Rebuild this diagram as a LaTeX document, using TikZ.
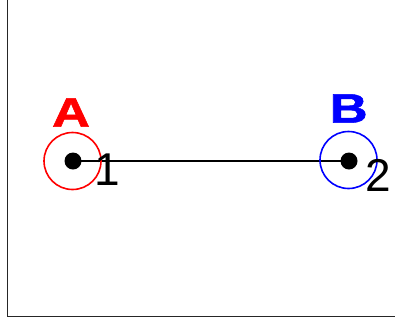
\documentclass[tikz,border=0pt]{standalone}
\usepackage{fontspec}
\usetikzlibrary{backgrounds}
\setmainfont{Liberation Sans}
\newfontfamily\namefont[FakeBold=1.2]{Liberation Sans Bold}
\newcommand{\widename}[1]{\scalebox{1.28}[1]{#1}}
\begin{document}
\begin{tikzpicture}[x=1pt,y=-1pt,
  dot/.style={circle,fill=black,inner sep=0pt,minimum size=17pt},
  ring/.style={circle,draw=#1,line width=1.6pt,inner sep=0pt,minimum size=57pt},
  pointname/.style={text=#1,inner sep=0pt,font=\fontsize{41}{41}\namefont},
  index/.style={inner sep=0pt,font=\fontsize{46}{46}\selectfont},
  link/.style={line width=1.5pt}]
  \useasboundingbox (0,0) rectangle (395,322);
  % outer frame, top and right edges lie beyond the page
  \draw[line width=1pt,black!85] (7.5,-10) rectangle (405,316);
  % end points with their rings
  \node[ring=red] (ringA) at (72.5,161) {};
  \node[ring=blue] (ringB) at (348.5,160) {};
  \node[dot] (dotA) at (73,161) {};
  \node[dot] (dotB) at (349,161) {};
  % segment between the two points, kept under the dots
  \begin{scope}[on background layer]
    \draw[link] (dotA.center) -- (dotB.center);
  \end{scope}
  % names and indices
  \node[pointname=red] (nameA) at (71,112.5) {\widename{A}};
  \node[pointname=blue] (nameB) at (348.7,108.5) {\widename{B}};
  \node[index] (idxA) at (107,170) {1};
  \node[index] (idxB) at (378,175) {2};
\end{tikzpicture}
\end{document}
